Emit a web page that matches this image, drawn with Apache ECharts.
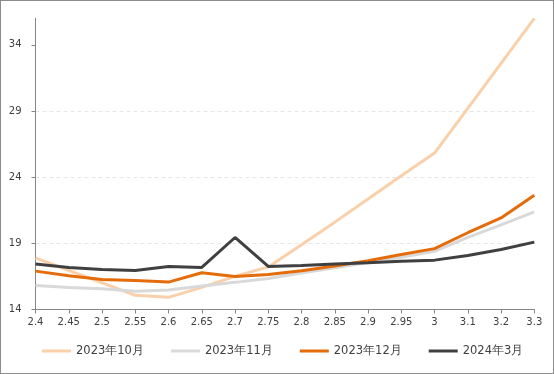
<!DOCTYPE html>
<html>
<head>
<meta charset="utf-8">
<script src="https://cdn.jsdelivr.net/npm/echarts@6/dist/echarts.min.js"></script>
<style>
html,body{margin:0;padding:0;background:#fff;}
#c{width:554px;height:374px;box-sizing:border-box;border:1px solid #8c8c8c;}
</style>
</head>
<body>
<div id="c"></div>
<script>
var categories = ['2.4','2.45','2.5','2.55','2.6','2.65','2.7','2.75','2.8','2.85','2.9','2.95','3','3.1','3.2','3.3'];
var seriesNames = ['2023年10月','2023年11月','2023年12月','2024年3月'];
var oct2023 = [17.9,16.96,16.02,15.07,14.92,15.67,16.5,17.22,18.9,20.6,22.35,24.1,25.82,29.2,32.6,36.0];
var nov2023 = [15.82,15.67,15.57,15.37,15.47,15.77,16.05,16.35,16.75,17.15,17.55,17.95,18.4,19.45,20.4,21.37];
var dec2023 = [16.9,16.55,16.27,16.2,16.07,16.78,16.5,16.65,16.93,17.28,17.68,18.16,18.6,19.8,20.92,22.63];
var mar2024 = [17.43,17.18,17.03,16.95,17.25,17.18,19.44,17.25,17.33,17.43,17.53,17.65,17.73,18.08,18.53,19.09];
var yTicks = [14,19,24,29,34];
var colors = ['#FAD0AA','#D9D9D9','#E46C0A','#404040'];

var chart = echarts.init(document.getElementById('c'), null, {renderer:'canvas'});
var dataSets = [oct2023, nov2023, dec2023, mar2024];
var series = dataSets.map(function(d, i){
  return {
    name: seriesNames[i], type:'line', data:d, symbol:'none', smooth:false,
    lineStyle:{width:3, color:colors[i]}, itemStyle:{color:colors[i]}, z: 2+i
  };
});
chart.setOption({
  animation:false,
  color: colors,
  grid:{left:34.5, right:18.7, top:17.3, bottom:63.5, containLabel:false},
  legend:{
    data: seriesNames, left:41, top:344, padding:0,
    icon:'rect', itemWidth:29, itemHeight:3, itemGap:27,
    textStyle:{fontFamily:'DejaVu Sans', fontSize:11.5, color:'#404040'}
  },
  xAxis:{
    type:'category', data:categories, boundaryGap:false,
    axisLine:{lineStyle:{color:'#868686', width:1}},
    axisTick:{show:true, alignWithLabel:true, length:4, inside:false, lineStyle:{color:'#868686'}},
    axisLabel:{fontFamily:'DejaVu Sans', fontSize:10, color:'#404040', margin:8, interval:0},
    splitLine:{show:false}
  },
  yAxis:{
    type:'value', min:14, max:36, interval:5,
    axisLine:{show:true, lineStyle:{color:'#868686', width:1}},
    axisTick:{show:true, length:4, lineStyle:{color:'#868686'}, customValues: yTicks},
    axisLabel:{fontFamily:'DejaVu Sans', fontSize:10, color:'#404040', margin:14, customValues: yTicks},
    splitLine:{show:true, showMinLine:false, showMaxLine:false, lineStyle:{color:'#E6E6E6', type:[4,3], width:1}}
  },
  series: series
});
</script>
</body>
</html>
